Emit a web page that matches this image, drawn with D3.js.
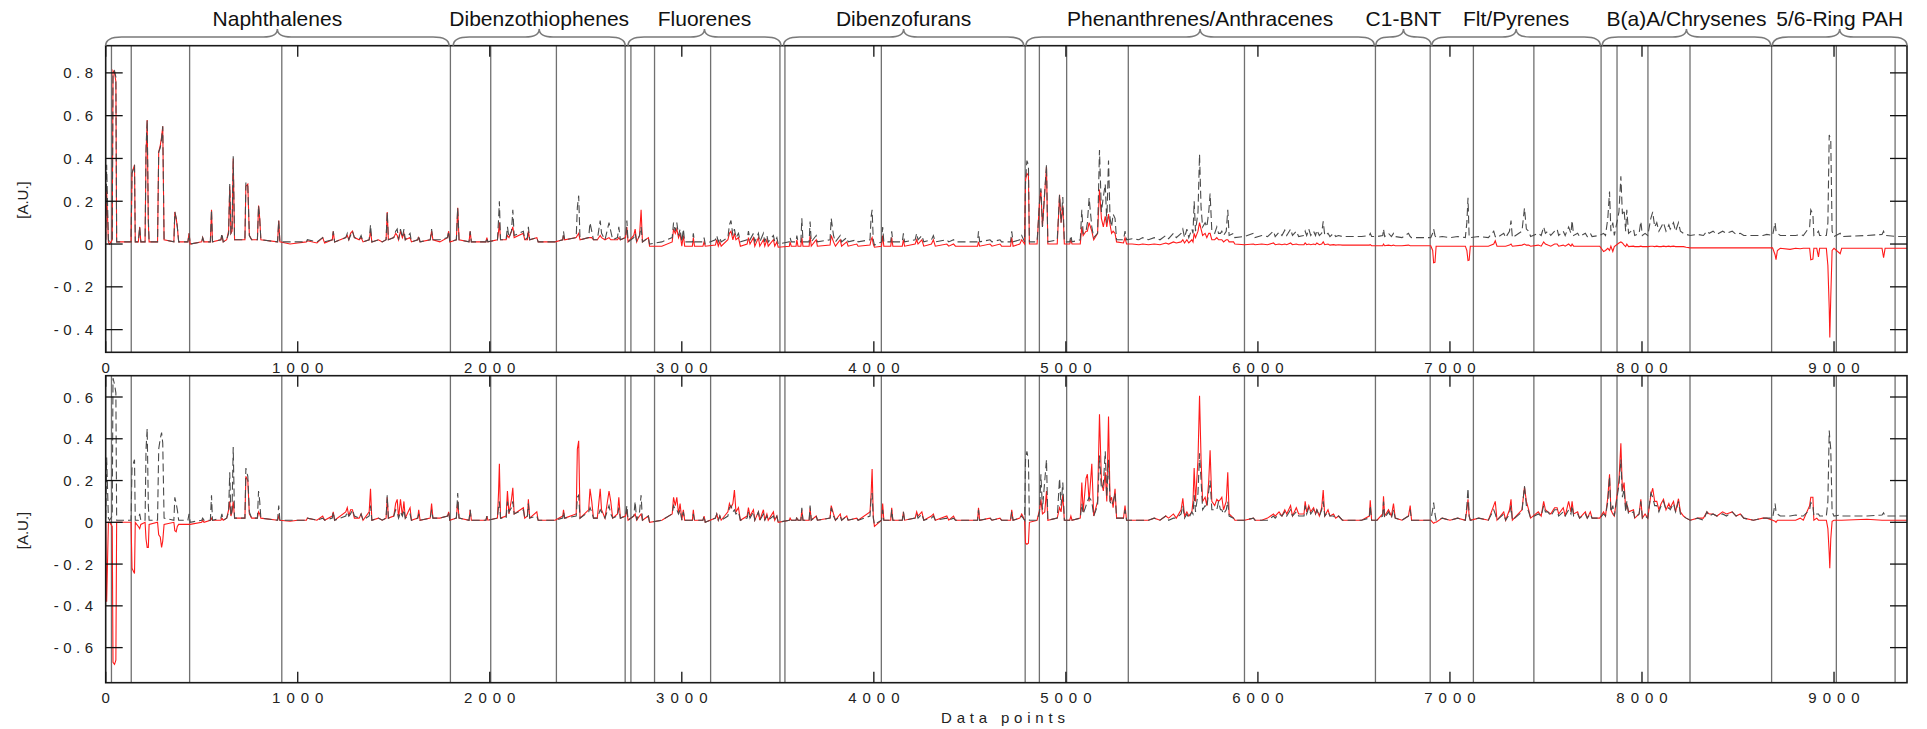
<!DOCTYPE html>
<html><head><meta charset="utf-8">
<script src="https://cdn.jsdelivr.net/npm/d3@7"></script>
<style>
html,body{margin:0;padding:0;background:#fff;}
svg{display:block;font-family:"Liberation Sans",Arial,sans-serif;}
</style></head><body>
<svg id="chart" width="1927" height="729"></svg>
<script>
// ---------- tick labels ----------
const xTicks = [0,1000,2000,3000,4000,5000,6000,7000,8000,9000];
const yTicksTop = [-0.4,-0.2,0,0.2,0.4,0.6,0.8];
const yTicksBottom = [-0.6,-0.4,-0.2,0,0.2,0.4,0.6];

// ---------- compound groups ----------
const groupLabels = ["Naphthalenes","Dibenzothiophenes","Fluorenes","Dibenzofurans","Phenanthrenes/Anthracenes","C1-BNT","Flt/Pyrenes","B(a)A/Chrysenes","5/6-Ring PAH"];
const groupStart = [0,1810,2720,3530,4792,6614,6906,7793,8679];
const groupEnd   = [1788,2705,3516,4780,6606,6902,7783,8670,9380];
const separators = [30,133,437,917,1795,2005,2347,2705,2735,2858,3150,3511,3537,4039,4788,4862,5004,5325,5930,6612,6897,7122,7437,7787,7870,8031,8250,8675,9012,9318];

// ---------- data points (x) and series values ----------
const dataPoints = [
0,5,14,20,34,38,46,53,57,132,
137,150,154,170,177,183,205,210,216,222,
226,270,276,284,291,297,304,355,360,367,
373,380,428,434,440,500,505,512,545,551,
556,600,605,612,630,640,646,652,658,664,
671,725,730,740,748,760,790,796,802,808,
895,901,907,960,1000,1045,1050,1100,1130,1140,
1180,1185,1192,1250,1258,1266,1275,1285,1295,1320,
1330,1340,1372,1379,1386,1420,1440,1460,1466,1472,
1500,1510,1518,1525,1535,1545,1553,1560,1585,1592,
1625,1630,1637,1690,1697,1704,1740,1780,1786,1792,
1826,1833,1840,1892,1898,1904,1980,1985,1990,2040,
2046,2050,2056,2085,2092,2100,2113,2120,2127,2175,
2182,2196,2201,2208,2245,2252,2300,2340,2380,2384,
2390,2450,2456,2463,2470,2515,2522,2531,2540,2560,
2575,2582,2600,2621,2630,2640,2665,2672,2680,2707,
2714,2720,2750,2757,2765,2780,2788,2795,2826,2832,
2896,2950,2957,2966,2974,2983,2991,3000,3008,3015,
3055,3060,3066,3110,3116,3122,3175,3182,3190,3198,
3205,3240,3248,3256,3266,3274,3282,3295,3305,3340,
3347,3355,3373,3380,3399,3406,3425,3432,3443,3450,
3477,3484,3495,3502,3560,3564,3570,3595,3599,3605,
3620,3625,3631,3663,3668,3674,3700,3706,3772,3778,
3790,3800,3825,3832,3859,3866,3911,3918,3980,3986,
3991,3997,4003,4040,4046,4052,4088,4093,4099,4148,
4154,4160,4215,4223,4230,4250,4260,4300,4310,4320,
4380,4390,4415,4425,4540,4545,4551,4605,4615,4657,
4665,4712,4718,4725,4760,4770,4785,4790,4797,4805,
4810,4850,4863,4870,4878,4890,4899,4906,4955,4967,
4975,4984,4992,5020,5026,5032,5075,5083,5090,5105,
5112,5121,5135,5145,5165,5175,5185,5195,5205,5213,
5222,5230,5238,5246,5256,5264,5300,5308,5316,5345,
5380,5400,5430,5460,5490,5520,5535,5560,5575,5600,
5609,5618,5630,5640,5656,5662,5668,5675,5688,5696,
5704,5712,5725,5734,5744,5751,5760,5775,5786,5795,
5805,5812,5821,5835,5843,5850,5873,5880,5930,5977,
5985,6020,6050,6081,6090,6110,6125,6140,6150,6170,
6180,6200,6212,6240,6246,6254,6265,6275,6290,6300,
6307,6320,6332,6340,6348,6365,6375,6394,6405,6420,
6440,6500,6540,6580,6585,6592,6620,6650,6654,6660,
6680,6695,6706,6715,6750,6784,6793,6800,6860,6900,
6910,6915,6922,6928,6960,7000,7040,7080,7088,7094,
7100,7106,7150,7200,7228,7236,7245,7280,7290,7310,
7318,7325,7375,7388,7398,7410,7420,7460,7475,7488,
7497,7510,7525,7545,7558,7566,7590,7600,7618,7630,
7636,7644,7665,7675,7705,7715,7731,7740,7780,7800,
7810,7822,7831,7838,7848,7856,7880,7890,7898,7907,
7915,7921,7930,7956,7962,7985,7994,8002,8016,8030,
8046,8056,8066,8077,8088,8100,8112,8125,8140,8147,
8164,8175,8190,8200,8216,8230,8251,8290,8320,8338,
8350,8370,8390,8420,8440,8470,8490,8512,8530,8580,
8630,8650,8680,8693,8698,8705,8720,8771,8800,8824,
8840,8873,8879,8890,8895,8910,8919,8925,8960,8968,
8975,8978,8983,8990,9000,9032,9040,9171,9250,9258,
9266,9330,9380
];

// upper panel, dashed (grey) series
const topDashed = [
.02,.37,.02,.01,.02,.80,.81,.78,.01,.01,
.33,.37,.01,.01,.08,.01,.01,.45,.58,.12,
.01,.01,.43,.45,.49,.55,.02,.01,.15,.12,
.08,.01,.01,.05,0,.01,.03,.01,.01,.16,
.01,.02,.05,.01,.02,.05,.28,.05,.06,.41,
.02,.02,.29,.27,.04,.02,.02,.18,.12,.02,
.01,.11,.01,.01,.01,.01,.02,.01,.03,.01,
.02,.06,.01,.03,.05,.02,.04,.06,.03,.02,
.04,.01,.02,.09,.01,.02,.01,.02,.15,.02,
.03,.06,.07,.02,.07,.03,.07,.02,.05,.01,
.02,.04,.01,.02,.07,.02,.02,.03,.06,.01,
.02,.17,.02,.01,.06,.01,.01,.03,.01,.02,
.12,.20,.02,.02,.08,.03,.06,.16,.04,.06,
.02,.03,.08,.02,.03,.01,.01,.01,.02,.06,
.02,.03,.17,.226,.02,.03,.10,.06,.02,.02,
.11,.05,.02,.10,.06,.02,.03,.08,.02,.03,
.11,.01,.03,.05,.01,.04,.08,.01,.03,0,
.01,.03,.10,.06,.10,.04,.07,.01,.07,.01,
.01,.05,.01,.01,.03,0,.02,.04,.01,.03,
.01,.03,.09,.11,.04,.07,.03,.05,.01,.02,
.06,.02,.05,.01,.05,.01,.05,.01,.04,.01,
.04,.01,.03,0,.01,.03,.01,.01,.04,.01,
.01,.12,.01,.01,.105,.01,.04,.01,.02,.12,
.04,.01,.04,.01,.03,.01,.02,.01,.02,.13,
.16,.02,-.005,.01,.08,.01,.01,.06,.01,.01,
.05,.01,.02,.05,.02,.04,.01,.02,.04,.01,
.02,.01,.02,.01,.01,.06,.01,.02,.01,.02,
.01,.01,.06,.01,.02,.04,.01,.30,.39,.37,
.01,.01,.20,.26,.08,.25,.37,.01,.02,.23,
.10,.22,.01,.01,.04,.01,.02,.16,.05,.06,
.10,.216,.08,.03,.05,.44,.15,.22,.28,.10,
.39,.12,.08,.14,.12,.02,.02,.06,.02,.025,
.02,.03,.02,.03,.02,.04,.025,.05,.03,.05,
.07,.03,.07,.03,.07,.05,.20,.06,.15,.42,
.17,.08,.10,.08,.15,.236,.06,.05,.08,.05,
.05,.06,.04,.06,.16,.04,.05,.03,.035,.05,
.03,.04,.035,.06,.035,.055,.04,.065,.04,.07,
.04,.06,.035,.04,.06,.04,.07,.04,.06,.04,
.065,.04,.05,.106,.04,.05,.035,.05,.035,.04,
.035,.035,.035,.04,.05,.035,.035,.04,.07,.035,
.05,.035,.05,.035,.03,.05,.035,.03,.03,.03,
.05,.07,.04,.03,.035,.03,.035,.03,.10,.216,
.03,.03,.035,.03,.06,.035,.03,.05,.03,.06,
.11,.03,.06,.168,.07,.06,.035,.05,.04,.08,
.05,.06,.04,.06,.07,.04,.06,.04,.08,.05,
.11,.04,.05,.035,.05,.035,.05,.035,.04,.05,
.04,.12,.245,.06,.10,.04,.15,.317,.14,.16,
.06,.16,.05,.07,.04,.05,.106,.04,.05,.04,
.12,.15,.08,.10,.06,.08,.10,.06,.09,.07,
.10,.06,.10,.06,.05,.045,.04,.045,.04,.06,
.05,.06,.045,.06,.05,.06,.045,.05,.04,.04,
.04,.045,.04,.10,.06,.05,.04,.04,.04,.045,
.04,.08,.16,.14,.04,.05,.06,.04,.04,.10,
.51,.50,.49,.06,.035,.05,.035,.04,.045,.06,
.04,.035,.035
];

// upper panel, red series
const topRed = [
.02,.25,.01,0,.02,.81,.80,.76,.01,.01,
.33,.37,.01,.01,.08,.01,.01,.42,.58,.10,
.01,.01,.43,.46,.50,.55,.02,.01,.15,.12,
.08,.01,.01,.05,0,.01,.03,.01,.01,.16,
.01,.02,.04,.01,.02,.06,.27,.05,.06,.40,
.02,.02,.27,.28,.04,.02,.02,.18,.12,.02,
.01,.11,.01,0,.005,.01,.015,.005,.03,.005,
.02,.06,.01,.03,.04,.02,.05,.06,.03,.02,
.03,.01,.02,.06,.01,.02,.01,.02,.15,.02,
.03,.05,.04,.02,.06,.03,.05,.02,.03,.01,
.02,.03,.01,.02,.06,.02,.01,.03,.06,.01,
.02,.17,.02,.01,.06,.01,.01,.03,.01,.02,
.06,.10,.02,.02,.04,.03,.06,.08,.03,.05,
.02,.02,.06,.02,.03,.01,.01,.01,.02,.04,
.02,.03,.04,.05,.02,.03,.03,.03,.02,.02,
.04,.03,.02,.03,.02,.02,.02,.03,.02,.03,
.08,.01,.04,.07,.01,.04,.16,.01,.03,-.01,
-.01,.01,.07,.05,.07,.03,.05,-.01,.04,-.01,
-.01,.03,-.01,-.01,.01,-.01,-.005,.02,-.01,.01,
-.01,.02,.05,.06,.02,.05,.02,.03,-.01,0,
.03,0,.03,-.01,.03,-.01,.02,-.01,.02,-.01,
.02,-.01,.01,-.015,-.01,.01,-.01,-.01,.02,-.01,
-.01,.03,-.01,-.01,.04,-.01,.02,-.01,-.005,.04,
.01,-.01,.02,-.01,.01,-.01,0,-.01,-.005,.02,
.03,0,-.015,-.01,.04,-.01,-.01,.03,-.01,-.01,
.02,-.01,0,.02,0,.02,-.01,0,.02,-.01,
0,-.01,0,-.01,-.01,.01,-.01,0,-.01,0,
-.01,-.01,.03,-.01,0,.02,0,.30,.33,.32,
0,0,.20,.25,.08,.24,.36,0,0,.23,
.10,.18,0,0,.02,0,0,.08,.04,.06,
.06,.10,.06,.02,.05,.255,.12,.08,.13,.08,
.14,.09,.05,.06,.05,.01,.005,.03,0,0,
-.003,0,-.003,0,-.003,.005,0,.01,.005,.01,
.02,.005,.02,.005,.02,.01,.05,.03,.06,.10,
.07,.04,.05,.03,.05,.05,.02,.02,.03,.02,
.02,.02,.01,.02,.02,.01,.01,0,-.003,0,
-.003,0,-.003,.005,-.003,0,-.003,0,-.003,.005,
-.003,0,-.003,-.003,.005,-.003,0,-.003,0,-.003,
.005,-.003,0,.01,-.003,0,-.005,-.003,-.005,-.003,
-.005,-.005,-.005,-.005,-.003,-.008,-.008,-.008,0,-.008,
-.005,-.008,-.005,-.008,-.008,-.005,-.008,-.008,-.008,-.008,
-.03,-.087,-.085,-.01,-.01,-.01,-.01,-.01,-.03,-.077,
-.075,-.01,-.01,-.01,0,.015,-.01,-.01,-.01,-.005,
0,-.01,-.005,0,-.005,-.005,-.01,-.005,-.01,.01,
0,-.005,-.01,0,0,-.01,-.005,-.01,0,-.01,
0,-.01,-.01,-.01,-.01,-.01,-.01,-.01,-.01,-.035,
-.03,-.02,-.03,-.01,-.035,-.012,.005,.01,.005,-.005,
-.012,0,-.012,-.01,-.012,-.012,-.01,-.012,-.012,-.012,
-.01,-.01,-.012,-.01,-.012,-.012,-.01,-.012,-.01,-.012,
-.01,-.012,-.012,-.012,-.012,-.015,-.018,-.018,-.018,-.018,
-.018,-.018,-.018,-.018,-.018,-.018,-.018,-.018,-.018,-.018,
-.018,-.018,-.018,-.05,-.073,-.03,-.02,-.025,-.02,-.022,
-.02,-.02,-.073,-.07,-.02,-.02,-.06,-.02,-.02,-.1,
-.3,-.437,-.25,-.03,-.02,-.045,-.02,-.02,-.02,-.064,
-.02,-.02,-.02
];

// lower panel, dashed (grey) series
const bottomDashed = [
.02,.31,.02,.01,.03,.69,.66,.62,.01,.01,
.26,.30,.01,.01,.04,.01,.01,.35,.45,.08,
.01,.01,.35,.40,.43,.38,.02,.01,.12,.09,
.06,.01,.01,.04,0,.01,.02,.01,.01,.13,
.01,.02,.04,.01,.02,.05,.24,.03,.06,.36,
.02,.02,.26,.22,.05,.02,.02,.15,.10,.02,
.01,.08,.01,.01,.01,.01,.02,.01,.02,.01,
.02,.05,.01,.03,.05,.03,.04,.06,.03,.02,
.04,.01,.03,.08,.01,.02,.01,.02,.13,.02,
.03,.06,.05,.02,.05,.03,.06,.02,.04,.01,
.02,.04,.01,.02,.06,.02,.02,.03,.05,.01,
.02,.14,.02,.01,.06,.01,.01,.03,.01,.02,
.08,.10,.02,.02,.10,.05,.07,.10,.04,.06,
.02,.03,.09,.02,.03,.01,.01,.01,.02,.05,
.02,.03,.12,.13,.02,.05,.07,.05,.02,.02,
.06,.05,.02,.08,.04,.02,.03,.07,.02,.03,
.08,.01,.03,.10,.01,.05,.13,.01,.03,0,
.01,.04,.08,.06,.06,.04,.06,.01,.05,.01,
.01,.04,.01,.01,.03,0,.02,.04,.01,.03,
.01,.03,.07,.08,.05,.06,.04,.05,.01,.02,
.05,.02,.05,.01,.05,.01,.04,.01,.03,.01,
.03,.01,.03,0,.01,.02,.01,.01,.03,.01,
.01,.07,.01,.01,.08,.01,.03,.01,.02,.07,
.03,.01,.03,.01,.03,.01,.02,.01,.03,.12,
.14,.02,-.01,.01,.06,.01,.01,.06,.01,.01,
.05,.01,.02,.04,.02,.04,.01,.02,.03,.01,
.02,.01,.02,.01,.01,.06,.01,.02,.01,.02,
.01,.01,.05,.01,.02,.03,.01,.30,.34,.30,
.01,.01,.05,.23,.06,.20,.30,.01,.02,.21,
.08,.19,.01,.01,.02,.01,.02,.09,.04,.08,
.10,.12,.10,.03,.08,.32,.16,.18,.34,.12,
.30,.10,.08,.10,.14,.02,.02,.06,.01,.01,
.01,.01,.01,.02,.01,.03,.01,.02,.02,.04,
.08,.02,.04,.02,.05,.04,.13,.05,.14,.33,
.20,.06,.08,.07,.15,.20,.06,.06,.06,.10,
.06,.06,.04,.06,.10,.03,.02,.01,.01,.02,
.01,.01,.01,.03,.02,.04,.03,.05,.03,.06,
.03,.05,.03,.03,.08,.04,.07,.04,.06,.04,
.06,.03,.06,.10,.03,.05,.03,.03,.02,.03,
.01,.01,.01,.02,.08,.01,.01,.03,.10,.02,
.05,.02,.06,.02,.01,.03,.06,.01,.01,.01,
.06,.095,.04,.01,.02,.01,.02,.01,.08,.163,
.03,.01,.02,.01,.06,.04,.01,.04,.01,.04,
.08,.01,.05,.173,.08,.05,.02,.04,.03,.08,
.05,.05,.03,.06,.06,.03,.05,.03,.06,.04,
.08,.03,.04,.02,.04,.02,.04,.02,.02,.04,
.03,.10,.22,.05,.08,.03,.18,.30,.12,.16,
.05,.10,.04,.05,.02,.04,.10,.02,.03,.02,
.14,.12,.08,.08,.05,.08,.10,.06,.07,.06,
.09,.05,.10,.04,.03,.02,.01,.02,.01,.05,
.03,.04,.03,.04,.03,.05,.03,.04,.02,.01,
.02,.02,.02,.09,.05,.04,.03,.03,.035,.03,
.03,.06,.095,.08,.03,.04,.04,.03,.03,.10,
.44,.40,.35,.05,.03,.035,.03,.03,.035,.045,
.03,.03,.03
];

// lower panel, red series
const bottomRed = [
0,-.38,0,0,-.02,-.67,-.68,-.66,0,0,
-.22,-.245,0,-.02,-.03,-.01,0,-.08,-.12,-.12,
-.01,0,-.06,-.07,-.12,-.09,-.01,0,-.04,-.045,
-.02,-.01,-.01,-.01,-.01,0,.01,0,.01,.02,
.01,.01,.02,.01,.02,.06,.10,.03,.05,.10,
.02,.02,.22,.20,.04,.02,.02,.05,.04,.02,
.01,.03,.01,.005,.01,.01,.02,.01,.03,.01,
.03,.05,.01,.05,.07,.03,.06,.06,.02,.02,
.04,.01,.05,.16,.01,.02,.01,.02,.12,.02,
.03,.09,.11,.02,.11,.03,.10,.02,.07,.01,
.02,.06,.01,.02,.09,.02,.02,.03,.05,.01,
.02,.10,.02,.01,.06,.01,.01,.03,.01,.02,
.15,.28,.02,.03,.15,.04,.11,.165,.04,.07,
.02,.03,.11,.02,.05,.01,.01,.01,.03,.06,
.02,.04,.35,.39,.02,.06,.16,.10,.02,.02,
.16,.06,.02,.15,.10,.02,.04,.12,.02,.03,
.06,.01,.03,.04,.01,.03,.04,.01,.03,0,
.01,.04,.12,.08,.12,.04,.09,.01,.06,.01,
.01,.06,.01,.01,.03,0,.02,.04,.01,.03,
.01,.05,.09,.07,.09,.155,.05,.07,.01,.03,
.07,.03,.06,.01,.05,.01,.06,.01,.04,.01,
.05,.01,.03,0,.01,.02,.01,.01,.02,.01,
.01,.06,.01,.01,.07,.01,.03,.01,.02,.08,
.04,.01,.04,.01,.03,.01,.02,.01,.05,.14,
.255,.03,-.02,.01,.09,.01,.01,.07,.01,.01,
.05,.01,.02,.05,.03,.05,.01,.03,.04,.01,
.03,.01,.03,.01,.01,.07,.01,.02,.01,.02,
.01,.01,.06,.01,.02,.04,.01,-.10,-.105,-.10,
0,.01,.06,.11,.04,.05,.15,.01,.02,.07,
.05,.13,.01,.01,.03,.01,.02,.19,.05,.21,
.23,.10,.28,.03,.10,.517,.20,.15,.24,.10,
.507,.10,.12,.07,.16,.02,.02,.08,.01,.01,
.01,.01,.01,.02,.01,.03,.02,.04,.02,.06,
.115,.03,.05,.03,.05,.10,.26,.10,.30,.606,
.30,.10,.12,.08,.20,.345,.10,.08,.11,.10,
.11,.12,.06,.10,.24,.04,.02,.01,.01,.02,
.01,.01,.02,.04,.03,.05,.03,.06,.04,.08,
.03,.07,.04,.04,.10,.05,.08,.05,.07,.04,
.06,.03,.07,.155,.03,.06,.03,.04,.02,.03,
.01,.01,.01,.03,.105,.01,.01,.04,.125,.03,
.06,.03,.09,.02,.01,.03,.08,.01,.01,.01,
0,-.005,0,0,.02,.01,.02,.01,.06,.11,
.03,.01,.02,.01,.08,.10,.01,.05,.01,.06,
.11,.01,.06,.17,.10,.06,.02,.05,.03,.10,
.06,.05,.04,.07,.07,.04,.07,.03,.10,.05,
.10,.04,.05,.02,.05,.02,.05,.02,.02,.05,
.03,.12,.23,.06,.04,.03,.20,.378,.15,.19,
.06,.09,.05,.06,.02,.04,.11,.02,.04,.02,
.13,.163,.10,.10,.06,.09,.11,.06,.09,.07,
.10,.05,.113,.05,.03,.02,.01,.02,.02,.05,
.04,.04,.03,.05,.04,.05,.03,.04,.02,.01,
.02,.02,.01,.005,0,.01,.01,.01,.01,.02,
.01,.08,.12,.12,.01,.02,.01,.01,.01,-.03,
-.15,-.22,-.08,.005,.01,.01,.01,.015,.01,.01,
.01,.01,.01
];

// ---------- drawing ----------
const svg = d3.select("#chart");
const xLeft = 105.7, xRight = 1907;
const x = d3.scaleLinear().domain([0, 9380]).range([xLeft, xRight]);

const panels = [
  { y: d3.scaleLinear().domain([-0.506, 0.927]).range([352.3, 45.7]), ticks: yTicksTop,
    dashed: topDashed, red: topRed, labelY: 200 },
  { y: d3.scaleLinear().domain([-0.768, 0.702]).range([682.7, 375.7]), ticks: yTicksBottom,
    dashed: bottomDashed, red: bottomRed, labelY: 530.5 }
];

const idx = d3.range(dataPoints.length);
const fmt = v => v === 0 ? "0" : v.toFixed(1);

panels.forEach((p, k) => {
  const [yb, yt] = p.y.range();
  const g = svg.append("g");
  const clipId = "clip" + k;
  svg.append("clipPath").attr("id", clipId).append("rect")
    .attr("x", xLeft).attr("y", yt).attr("width", xRight - xLeft).attr("height", yb - yt);

  // group separators
  g.selectAll("line.sep").data(separators).join("line")
    .attr("x1", d => x(d)).attr("x2", d => x(d))
    .attr("y1", yt).attr("y2", yb)
    .attr("stroke", "#707070").attr("stroke-width", 1.3);

  const line = vals => d3.line().x(i => x(dataPoints[i])).y(i => p.y(vals[i]))(idx);

  const plot = g.append("g").attr("clip-path", `url(#${clipId})`);
  plot.append("path").attr("d", line(p.red))
    .attr("fill", "none").attr("stroke", "#ff1a1a").attr("stroke-width", 1.1)
    .attr("stroke-linejoin", "miter");
  plot.append("path").attr("d", line(p.dashed))
    .attr("fill", "none").attr("stroke", "#4a4a4a").attr("stroke-width", 1.1)
    .attr("stroke-dasharray", "8,4");

  // frame
  g.append("rect").attr("x", xLeft).attr("y", yt).attr("width", xRight - xLeft).attr("height", yb - yt)
    .attr("fill", "none").attr("stroke", "#1a1a1a").attr("stroke-width", 1.6);

  // x ticks (inside, top and bottom)
  xTicks.forEach(t => {
    g.append("line").attr("x1", x(t)).attr("x2", x(t)).attr("y1", yt).attr("y2", yt + 11)
      .attr("stroke", "#111").attr("stroke-width", 1.3);
    g.append("line").attr("x1", x(t)).attr("x2", x(t)).attr("y1", yb).attr("y2", yb - 11)
      .attr("stroke", "#111").attr("stroke-width", 1.3);
  });
  // y ticks (inside, left and right) + labels
  p.ticks.forEach(t => {
    const yy = p.y(t);
    g.append("line").attr("x1", xLeft).attr("x2", xLeft + 17).attr("y1", yy).attr("y2", yy)
      .attr("stroke", "#111").attr("stroke-width", 1.3);
    g.append("line").attr("x1", xRight).attr("x2", xRight - 17).attr("y1", yy).attr("y2", yy)
      .attr("stroke", "#111").attr("stroke-width", 1.3);
    g.append("text").attr("x", 97.5).attr("y", yy + 5.5)
      .attr("text-anchor", "end").attr("font-size", 15).attr("letter-spacing", 4.5)
      .attr("fill", "#222").text(fmt(t));
  });
  // y-axis title
  g.append("text").attr("transform", `translate(27.5,${p.labelY}) rotate(-90)`)
    .attr("text-anchor", "middle").attr("font-size", 15).attr("fill", "#222").text("[A.U.]");
});

// x tick labels (between panels and at bottom)
[372.7, 703].forEach(by => {
  svg.append("g").selectAll("text").data(xTicks).join("text")
    .attr("x", d => x(d) + 3).attr("y", by)
    .attr("text-anchor", "middle").attr("font-size", 15).attr("letter-spacing", 6)
    .attr("fill", "#222").text(d => String(d));
});
svg.append("text").attr("x", 1003 + 2.4).attr("y", 723)
  .attr("text-anchor", "middle").attr("font-size", 15).attr("letter-spacing", 4.8)
  .attr("fill", "#222").text("Data points");

// compound-group braces and labels
const bg = svg.append("g");
groupLabels.forEach((lab, i) => {
  const x1 = x(groupStart[i]), x2 = x(groupEnd[i]), xm = (x1 + x2) / 2;
  const r = Math.min(16, (x2 - x1) / 4), rt = Math.min(14, (x2 - x1) / 4);
  const yEnd = 45.7, yH = 37, yTip = 29;
  const d = `M${x1},${yEnd} Q${x1},${yH} ${x1 + r},${yH} L${xm - rt},${yH} Q${xm},${yH} ${xm},${yTip}` +
            ` Q${xm},${yH} ${xm + rt},${yH} L${x2 - r},${yH} Q${x2},${yH} ${x2},${yEnd}`;
  bg.append("path").attr("d", d).attr("fill", "none").attr("stroke", "#7a7a7a").attr("stroke-width", 1.6);
  bg.append("text").attr("x", xm).attr("y", 26).attr("text-anchor", "middle")
    .attr("font-size", 21).attr("fill", "#111").text(lab);
});
</script>
</body></html>
